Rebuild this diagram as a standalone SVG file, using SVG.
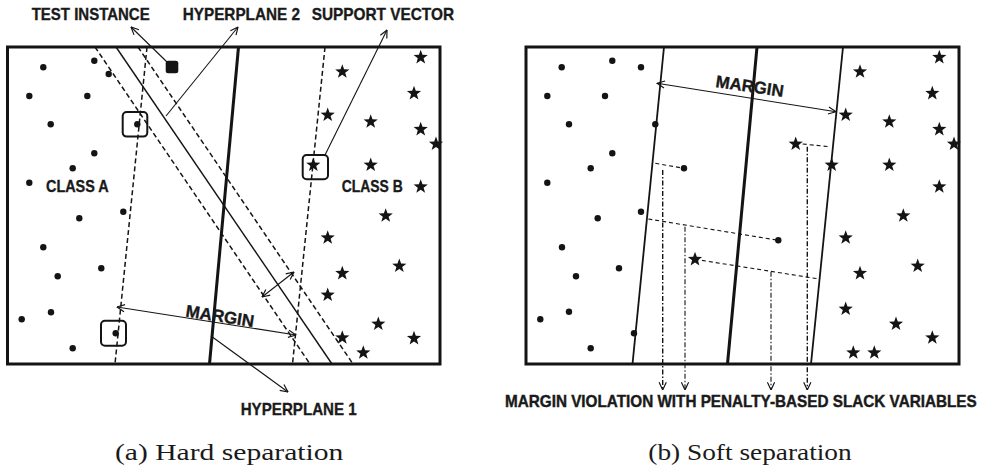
<svg xmlns="http://www.w3.org/2000/svg" xmlns:xlink="http://www.w3.org/1999/xlink" width="990" height="469" viewBox="0 0 990 469">
  <style>
    .frame { fill: none; stroke: #141414; stroke-width: 3; }
    .thick { stroke: #141414; stroke-width: 3; fill: none; }
    .solid { stroke: #141414; stroke-width: 1.4; fill: none; }
    .dash { stroke: #141414; stroke-width: 1.5; fill: none; stroke-dasharray: 5 3; }
    .slack { stroke: #141414; stroke-width: 1.1; fill: none; stroke-dasharray: 4 3; }
    .dashdot { stroke: #141414; stroke-width: 1.4; fill: none; stroke-dasharray: 5 2 1.5 2; }
    .thin { stroke: #141414; stroke-width: 1.1; fill: none; }
    .dot { fill: #141414; }
    .box { fill: none; stroke: #141414; stroke-width: 2; }
    .lbl { font-family: "Liberation Sans", Arial, sans-serif; font-weight: bold; font-size: 17px; fill: #1a1a1a; stroke: #1a1a1a; stroke-width: 0.35; }
    .cap { font-family: "Liberation Serif", "DejaVu Serif", serif; font-size: 24px; fill: #1a1a1a; }
  </style>
  <defs>
    <path id="star" d="M0,-7.5 L1.8,-2.5 L7.1,-2.3 L2.9,0.95 L4.4,6.1 L0,3.1 L-4.4,6.1 L-2.9,0.95 L-7.1,-2.3 L-1.8,-2.5 Z" fill="#141414"/>
    <marker id="arr" viewBox="0 0 10 10" refX="9.5" refY="5" markerWidth="9" markerHeight="9" markerUnits="userSpaceOnUse" orient="auto-start-reverse">
      <path d="M1,1 L9.5,5 L1,9" fill="none" stroke="#141414" stroke-width="1.3"/>
    </marker>
  </defs>
  <rect width="990" height="469" fill="#ffffff"/>

  <!-- Panel (a): hard separation -->
  <g id="panel-a">
    <rect class="frame" x="7.5" y="47" width="432.5" height="317"/>
    <!-- separating hyperplanes -->
    <line class="thick" x1="238.5" y1="47" x2="209.5" y2="364"/>
    <line class="dash" x1="147" y1="47" x2="115" y2="364"/>
    <line class="dash" x1="325" y1="47" x2="292.5" y2="364"/>
    <line class="solid" x1="116" y1="47" x2="332" y2="364"/>
    <line class="dash" x1="95" y1="47" x2="310" y2="364"/>
    <line class="dash" x1="138" y1="47" x2="353" y2="364"/>
    <!-- class A points -->
    <g id="class-a-points">
      <circle class="dot" cx="43.3" cy="67.3" r="3.2"/>
      <circle class="dot" cx="94.3" cy="60.7" r="3.2"/>
      <circle class="dot" cx="108.7" cy="74" r="3.2"/>
      <circle class="dot" cx="29.3" cy="96" r="3.2"/>
      <circle class="dot" cx="87.3" cy="96" r="3.2"/>
      <circle class="dot" cx="50.7" cy="124.3" r="3.2"/>
      <circle class="dot" cx="137.3" cy="124.3" r="3.2"/>
      <circle class="dot" cx="94.3" cy="153.3" r="3.2"/>
      <circle class="dot" cx="72.7" cy="168.3" r="3.2"/>
      <circle class="dot" cx="29.3" cy="182.7" r="3.2"/>
      <circle class="dot" cx="123.3" cy="211.7" r="3.2"/>
      <circle class="dot" cx="79.3" cy="218.3" r="3.2"/>
      <circle class="dot" cx="43.3" cy="247.3" r="3.2"/>
      <circle class="dot" cx="101.3" cy="268.3" r="3.2"/>
      <circle class="dot" cx="57.7" cy="276.3" r="3.2"/>
      <circle class="dot" cx="51" cy="312.3" r="3.2"/>
      <circle class="dot" cx="21.7" cy="319.3" r="3.2"/>
      <circle class="dot" cx="115.7" cy="333.3" r="3.2"/>
      <circle class="dot" cx="72.7" cy="348.3" r="3.2"/>
    </g>
    <!-- class B points -->
    <g id="class-b-points">
      <use xlink:href="#star" x="420.7" y="57.3"/>
      <use xlink:href="#star" x="342.3" y="71.7"/>
      <use xlink:href="#star" x="414" y="93.3"/>
      <use xlink:href="#star" x="327.7" y="115"/>
      <use xlink:href="#star" x="370.7" y="121.7"/>
      <use xlink:href="#star" x="420.7" y="129.3"/>
      <use xlink:href="#star" x="436" y="144"/>
      <use xlink:href="#star" x="313.3" y="165"/>
      <use xlink:href="#star" x="370.7" y="165"/>
      <use xlink:href="#star" x="420.7" y="186.7"/>
      <use xlink:href="#star" x="385.7" y="215.7"/>
      <use xlink:href="#star" x="327.7" y="237.7"/>
      <use xlink:href="#star" x="399.3" y="266"/>
      <use xlink:href="#star" x="342.3" y="273.3"/>
      <use xlink:href="#star" x="327.7" y="295"/>
      <use xlink:href="#star" x="378.3" y="324"/>
      <use xlink:href="#star" x="414" y="338.3"/>
      <use xlink:href="#star" x="342.3" y="337.7"/>
      <use xlink:href="#star" x="363.3" y="352.7"/>
    </g>
    <!-- support vector highlights -->
    <rect class="box" x="122.7" y="112" width="24.6" height="24.6" rx="4"/>
    <rect class="box" x="101" y="320.7" width="25" height="25" rx="4"/>
    <rect class="box" x="302.7" y="155" width="25.3" height="24.3" rx="4"/>
    <!-- test instance -->
    <rect id="test-instance" x="165.7" y="60.7" width="12.6" height="12.6" rx="2.5" fill="#141414"/>
  </g>

  <!-- Panel (b): soft separation -->
  <g id="panel-b">
    <rect class="frame" x="526" y="47" width="433" height="317"/>
    <line class="solid" x1="664" y1="47" x2="632.5" y2="364" style="stroke-width:1.8"/>
    <line class="thick" x1="757" y1="47" x2="727.5" y2="364"/>
    <line class="solid" x1="843" y1="47" x2="811" y2="364" style="stroke-width:1.8"/>
    <g id="class-a-points-b">
      <circle class="dot" cx="561.7" cy="67.3" r="3.2"/>
      <circle class="dot" cx="612.3" cy="60.7" r="3.2"/>
      <circle class="dot" cx="641" cy="67.3" r="3.2"/>
      <circle class="dot" cx="547.3" cy="96" r="3.2"/>
      <circle class="dot" cx="605" cy="96" r="3.2"/>
      <circle class="dot" cx="569" cy="124.3" r="3.2"/>
      <circle class="dot" cx="655.3" cy="124.3" r="3.2"/>
      <circle class="dot" cx="612.3" cy="153.3" r="3.2"/>
      <circle class="dot" cx="590.7" cy="168.3" r="3.2"/>
      <circle class="dot" cx="684" cy="168.3" r="3.2"/>
      <circle class="dot" cx="547.3" cy="182.7" r="3.2"/>
      <circle class="dot" cx="641" cy="211.7" r="3.2"/>
      <circle class="dot" cx="597.7" cy="218.3" r="3.2"/>
      <circle class="dot" cx="562" cy="247.3" r="3.2"/>
      <circle class="dot" cx="619" cy="268.3" r="3.2"/>
      <circle class="dot" cx="576" cy="276.3" r="3.2"/>
      <circle class="dot" cx="569" cy="311.7" r="3.2"/>
      <circle class="dot" cx="540.3" cy="319.3" r="3.2"/>
      <circle class="dot" cx="634" cy="333.3" r="3.2"/>
      <circle class="dot" cx="590.7" cy="348.3" r="3.2"/>
      <circle class="dot" cx="778.3" cy="240.3" r="3.2"/>
    </g>
    <g id="class-b-points-b">
      <use xlink:href="#star" x="939.3" y="57.3"/>
      <use xlink:href="#star" x="860" y="71.7"/>
      <use xlink:href="#star" x="932.3" y="93.3"/>
      <use xlink:href="#star" x="845.7" y="115"/>
      <use xlink:href="#star" x="889.3" y="121.7"/>
      <use xlink:href="#star" x="939.3" y="129.3"/>
      <use xlink:href="#star" x="954" y="144"/>
      <use xlink:href="#star" x="795.7" y="144"/>
      <use xlink:href="#star" x="831.7" y="165"/>
      <use xlink:href="#star" x="889.3" y="165"/>
      <use xlink:href="#star" x="939.3" y="186.7"/>
      <use xlink:href="#star" x="903.3" y="215.7"/>
      <use xlink:href="#star" x="845.7" y="237.7"/>
      <use xlink:href="#star" x="695" y="259.3"/>
      <use xlink:href="#star" x="917.7" y="266"/>
      <use xlink:href="#star" x="860" y="273.3"/>
      <use xlink:href="#star" x="845.7" y="309"/>
      <use xlink:href="#star" x="896" y="324"/>
      <use xlink:href="#star" x="932.3" y="337.7"/>
      <use xlink:href="#star" x="853.3" y="352.7"/>
      <use xlink:href="#star" x="874.3" y="352.7"/>
    </g>
    <!-- slack distances to the margins -->
    <g id="slack-distances">
      <line class="slack" x1="655.3" y1="163.3" x2="684" y2="168.3"/>
      <line class="slack" x1="648.3" y1="219" x2="778.3" y2="240.3"/>
      <line class="slack" x1="695" y1="259.3" x2="819.3" y2="279"/>
      <line class="slack" x1="795.7" y1="143.3" x2="829.3" y2="146.7"/>
    </g>
  </g>

  <!-- Connectors -->
  <g id="connectors">
    <line class="thin" x1="167" y1="62" x2="131" y2="27" marker-end="url(#arr)"/>
    <line class="thin" x1="166" y1="116" x2="238" y2="27" marker-end="url(#arr)"/>
    <line class="thin" x1="325" y1="155" x2="387" y2="30" marker-end="url(#arr)"/>
    <line class="thin" x1="211" y1="336" x2="288" y2="392" marker-end="url(#arr)"/>
    <line class="thin" x1="117" y1="307" x2="296" y2="335" marker-start="url(#arr)" marker-end="url(#arr)"/>
    <line class="thin" x1="262" y1="297" x2="294" y2="272" marker-start="url(#arr)" marker-end="url(#arr)"/>
    <line class="thin" x1="657" y1="83.3" x2="836" y2="111.7" marker-start="url(#arr)" marker-end="url(#arr)"/>
    <line class="dashdot" x1="662.7" y1="170" x2="662.7" y2="390" marker-end="url(#arr)"/>
    <line class="dashdot" x1="685" y1="226.7" x2="685" y2="390" marker-end="url(#arr)" style="stroke-width:1.1"/>
    <line class="dashdot" x1="771" y1="271.7" x2="771" y2="390" marker-end="url(#arr)" style="stroke-width:1.1"/>
    <line class="dashdot" x1="807.3" y1="146.7" x2="807.3" y2="390" marker-end="url(#arr)"/>
  </g>

  <!-- Labels -->
  <g id="label-test-instance"><text class="lbl" x="31.7" y="19.5" textLength="118" lengthAdjust="spacingAndGlyphs">TEST INSTANCE</text></g>
  <g id="label-hyperplane-2"><text class="lbl" x="182.7" y="19.5" textLength="117.3" lengthAdjust="spacingAndGlyphs">HYPERPLANE 2</text></g>
  <g id="label-support-vector"><text class="lbl" x="311.7" y="19.5" textLength="142.3" lengthAdjust="spacingAndGlyphs">SUPPORT VECTOR</text></g>
  <g id="label-hyperplane-1"><text class="lbl" x="240.7" y="415" textLength="116" lengthAdjust="spacingAndGlyphs">HYPERPLANE 1</text></g>
  <g id="label-class-a"><text class="lbl" x="46" y="192" textLength="62.7" lengthAdjust="spacingAndGlyphs">CLASS A</text></g>
  <g id="label-class-b"><text class="lbl" x="341.7" y="192" textLength="61" lengthAdjust="spacingAndGlyphs">CLASS B</text></g>
  <g id="label-margin-a"><text class="lbl" transform="translate(185 316.5) rotate(8.9)" x="0" y="0" textLength="69" lengthAdjust="spacingAndGlyphs">MARGIN</text></g>
  <g id="label-margin-b"><text class="lbl" transform="translate(715 87) rotate(8.4)" x="0" y="0" textLength="68.5" lengthAdjust="spacingAndGlyphs">MARGIN</text></g>
  <g id="label-slack"><text class="lbl" transform="translate(505 407) scale(1 1.22)" x="0" y="0" style="font-size:13.8px" textLength="471.7" lengthAdjust="spacingAndGlyphs">MARGIN VIOLATION WITH PENALTY-BASED SLACK VARIABLES</text></g>

  <!-- Captions -->
  <g id="caption-a"><text class="cap" x="115" y="459.5" textLength="228.3" lengthAdjust="spacingAndGlyphs">(a) Hard separation</text></g>
  <g id="caption-b"><text class="cap" x="648.3" y="459.5" textLength="203.4" lengthAdjust="spacingAndGlyphs">(b) Soft separation</text></g>
</svg>
